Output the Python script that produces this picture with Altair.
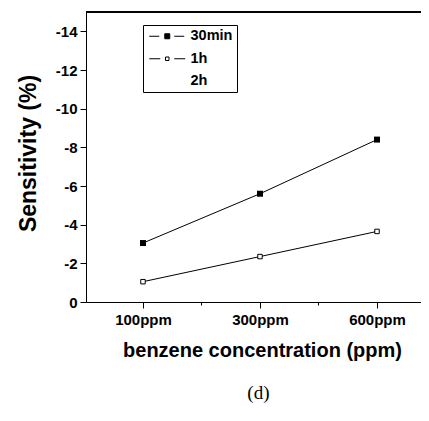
import altair as alt
import pandas as pd

concentrations = ["100ppm", "300ppm", "600ppm"]
series_names = ["30min", "1h", "2h"]
sens_30min = [-3.05, -5.6, -8.4]
sens_1h = [-1.05, -2.35, -3.65]
y_top = -15

rows = []
for i, c in enumerate(concentrations):
    rows.append({"series": "30min", "pos": i + 1, "conc": c, "value": sens_30min[i]})
    rows.append({"series": "1h", "pos": i + 1, "conc": c, "value": sens_1h[i]})
df = pd.DataFrame(rows)

label_expr = " : ".join(
    [f"datum.value == {i + 1} ? '{c}'" for i, c in enumerate(concentrations)]
) + " : ''"

FONT = "Liberation Sans"

x_enc = alt.X(
    "pos:Q",
    scale=alt.Scale(domain=[0.513, 3.376], nice=False, zero=False),
    axis=alt.Axis(
        values=[1, 1.5, 2, 2.5, 3],
        labelExpr=label_expr,
        title="benzene concentration (ppm)",
        titleX=176,
        titleFontSize=20,
        grid=False,
        tickSize={"condition": {"test": "datum.value % 1 == 0", "value": 6}, "value": 3},
        labelPadding=4,
        titlePadding=13,
    ),
)
y_enc = alt.Y(
    "value:Q",
    scale=alt.Scale(domain=[y_top, 0], reverse=True, nice=False),
    axis=alt.Axis(
        values=list(range(-14, 1)),
        labelExpr="datum.value % 2 == 0 ? (datum.value < 0 ? '-' + abs(datum.value) : '0') : ''",
        title="Sensitivity (%)",
        titleFontSize=23,
        titleY=141,
        grid=False,
        tickSize={"condition": {"test": "datum.value % 2 == 0", "value": 6}, "value": 3},
        labelPadding=3,
        titlePadding=15,
    ),
)

lines = alt.Chart(df).mark_line(color="black", strokeWidth=1).encode(
    x=x_enc, y=y_enc, detail="series:N"
)
pts30 = alt.Chart(df).transform_filter("datum.series == '30min'").mark_point(
    shape="square", filled=True, color="black", size=36, opacity=1
).encode(x="pos:Q", y="value:Q")
pts1h = alt.Chart(df).transform_filter("datum.series == '1h'").mark_point(
    shape="square", fill="white", stroke="black", strokeWidth=1, size=20, opacity=1
).encode(x="pos:Q", y="value:Q")

top_line = alt.Chart(df).mark_rule(color="black", strokeWidth=1).encode(
    y=alt.datum(y_top)
)

legend_paths = [
    "M-3.6,0H-1.6M-0.5,-0.5H0.5V0.5H-0.5ZM1.4,0H3.4",
    "M-3.6,0H-1.4M-0.35,-0.35H0.35V0.35H-0.35ZM1.4,0H3.6",
    "M0,0Z",
]
legend_fills = ["black", "white", "white"]
legend_strokes = ["black", "black", "white"]


def make_legend():
    return alt.Legend(
        title=None,
        orient="none",
        legendX=57,
        legendY=13,
        strokeColor="black",
        padding=4,
        symbolSize=100,
        symbolOffset=13,
        symbolStrokeWidth=1,
        labelOffset=16,
        labelFont=FONT,
        labelFontWeight="bold",
        labelFontSize=14.5,
        labelColor="black",
        rowPadding=7.5,
    )


dummy = alt.Chart(pd.DataFrame({"series": ["2h"]})).mark_point(
    strokeWidth=1, opacity=1
).encode(
    shape=alt.Shape("series:N", scale=alt.Scale(domain=series_names, range=legend_paths),
                    legend=make_legend()),
    fill=alt.Fill("series:N", scale=alt.Scale(domain=series_names, range=legend_fills),
                  legend=make_legend()),
    stroke=alt.Stroke("series:N", scale=alt.Scale(domain=series_names, range=legend_strokes),
                      legend=make_legend()),
)

chart = alt.layer(lines, pts30, pts1h, top_line, dummy).properties(
    width=335,
    height=290,
    autosize=alt.AutoSizeParams(type="none"),
    padding={"left": 78, "top": 4, "right": 0, "bottom": 106},
    title=alt.TitleParams(
        "(d)", orient="bottom", font="Liberation Serif", fontSize=19,
        fontWeight="normal", color="black", offset=24, anchor="start", dx=230,
    ),
).configure_view(stroke=None).configure_axis(
    domainColor="black",
    tickColor="black",
    labelColor="black",
    titleColor="black",
    labelFont=FONT,
    labelFontWeight="bold",
    labelFontSize=15,
    titleFont=FONT,
    titleFontWeight="bold",
)

chart.save("out.html", embed_options={"renderer": "svg", "actions": False})
